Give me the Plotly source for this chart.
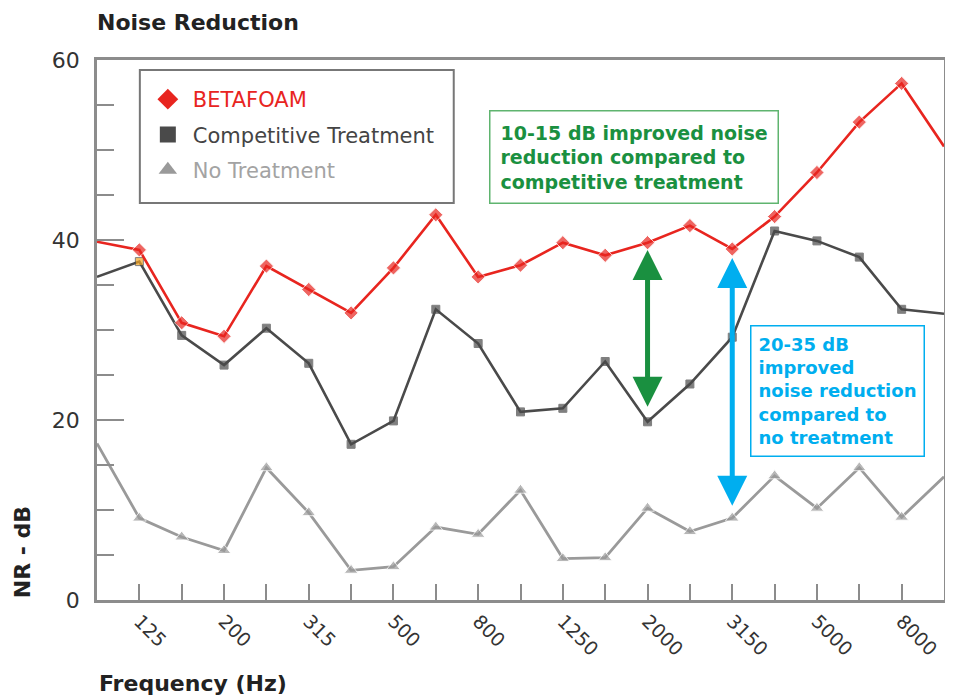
import plotly.graph_objects as go

# ---- data ----
freq_bands = ["100", "125", "160", "200", "250", "315", "400", "500", "630", "800",
              "1000", "1250", "1600", "2000", "2500", "3150", "4000", "5000", "6300",
              "8000", "10000"]
betafoam = [39.8, 38.9, 30.8, 29.3, 37.1, 34.5, 31.9, 36.9, 42.8, 35.9,
            37.2, 39.7, 38.3, 39.7, 41.6, 39.0, 42.6, 47.5, 53.1, 57.4, 50.4]
competitive = [35.9, 37.6, 29.4, 26.1, 30.2, 26.3, 17.3, 19.9, 32.3, 28.5,
               20.9, 21.3, 26.5, 19.8, 24.0, 29.2, 41.0, 39.9, 38.1, 32.3, 31.8]
no_treatment = [17.4, 9.1, 7.0, 5.5, 14.7, 9.7, 3.3, 3.7, 8.1, 7.3,
                12.2, 4.6, 4.7, 10.2, 7.6, 9.1, 13.8, 10.2, 14.7, 9.2, 13.7]
tick_labels = ["125", "200", "315", "500", "800", "1250", "2000", "3150", "5000", "8000"]
y_ticks = [0, 20, 40, 60]

# arrows: (band, from value, to value)
green_arrow = ("2000", 21.3, 38.9)
cyan_arrow = ("3150", 10.3, 38.0)

RED = "#e8251f"
DARK = "#4a4a4a"
LIGHT = "#9a9a9a"
GREEN = "#1a9040"
CYAN = "#00aeef"
FRAME = "#8c8c8c"
FONT = "DejaVu Sans, Verdana, sans-serif"
NUMFONT = "DejaVu Sans, sans-serif"

# page is rendered with an 8px body margin; plot area on page: x 97..947, y 60..600
OFF = 8
W, H = 953 - OFF, 698 - OFF
PL, PR, PT, PB = 97, 947, 60, 600


def px(xp):
    return (xp - PL) / (PR - PL)


def py(yp):
    return (PB - yp) / (PB - PT)


idx = list(range(len(freq_bands)))
n = len(idx)


def sizes(s):
    return [0] + [s] * (n - 2) + [0]


fig = go.Figure()

fig.add_trace(go.Scatter(x=idx, y=no_treatment, mode="lines+markers",
                         line=dict(color=LIGHT, width=2.8),
                         marker=dict(symbol="triangle-up", size=sizes(12), color=LIGHT),
                         showlegend=False))
comp_colors = [DARK] * n
comp_colors[1] = "#f5a623"
fig.add_trace(go.Scatter(x=idx, y=competitive, mode="lines+markers",
                         line=dict(color=DARK, width=2.6),
                         marker=dict(symbol="square", size=sizes(8), color=comp_colors),
                         showlegend=False))
fig.add_trace(go.Scatter(x=idx, y=betafoam, mode="lines+markers",
                         line=dict(color=RED, width=2.6),
                         marker=dict(symbol="diamond", size=sizes(11), color=RED),
                         showlegend=False))

legend_items = [("BETAFOAM", RED, "diamond", RED),
                ("Competitive Treatment", DARK, "square", "#444444"),
                ("No Treatment", LIGHT, "triangle-up", "#a3a3a3")]
for i, (name, col, sym, tcol) in enumerate(legend_items):
    fig.add_trace(go.Scatter(x=[None], y=[None], mode="markers",
                             marker=dict(symbol=sym, size=16, color=col),
                             name=f"<span style='color:{tcol}'>{name}</span>",
                             legendgroup=f"g{i}", showlegend=True))

tickvals = list(range(1, n - 1))
ticktext = [freq_bands[i] if freq_bands[i] in tick_labels else "" for i in tickvals]

fig.update_layout(
    width=W, height=H,
    margin=dict(l=PL - OFF, r=W - (PR - OFF), t=PT - OFF, b=H - (PB - OFF)),
    paper_bgcolor="white", plot_bgcolor="white",
    font=dict(family=FONT, color="#333333"),
    showlegend=True,
    legend=dict(x=px(143), y=py(79), xanchor="left", yanchor="top",
                xref="paper", yref="paper",
                borderwidth=0, bgcolor="rgba(0,0,0,0)",
                font=dict(size=21, family=FONT),
                traceorder="grouped", tracegroupgap=5, itemsizing="trace",
                itemwidth=40),
    title=dict(text="<b>Noise Reduction</b>", x=(97 - OFF) / W, xanchor="left",
               y=1 - (22 - OFF) / H, yanchor="middle",
               font=dict(size=22, color="#222222", family=FONT)),
)

# legend frame
fig.add_shape(type="rect", xref="paper", yref="paper",
              x0=px(140), x1=px(455), y0=py(203), y1=py(70),
              line=dict(color="#777777", width=2), fillcolor="white", layer="below")

fig.update_xaxes(range=[0, n - 1], tickmode="array", tickvals=tickvals, ticktext=ticktext,
                 tickangle=45, ticks="inside", ticklen=16, tickwidth=2, tickcolor=FRAME,
                 showline=True, linecolor=FRAME, linewidth=2.5, mirror=True,
                 showgrid=False, zeroline=False,
                 tickfont=dict(size=19, color="#333333", family=NUMFONT))
fig.update_yaxes(range=[0, 60], tickmode="array", tickvals=y_ticks,
                 ticks="inside", ticklen=27, tickwidth=2, tickcolor=FRAME,
                 minor=dict(dtick=5, ticks="inside", ticklen=17, tickwidth=2, tickcolor=FRAME),
                 showline=True, linecolor=FRAME, linewidth=2.5, mirror=True,
                 showgrid=False, zeroline=False, ticklabelstandoff=10,
                 tickfont=dict(size=22, color="#333333", family=NUMFONT))

# axis titles
fig.add_annotation(text="<b>Frequency (Hz)</b>", xref="paper", yref="paper",
                   x=0, y=py(684), xanchor="left", yanchor="middle",
                   showarrow=False, font=dict(size=22, color="#222222"))
fig.add_annotation(text="<b>NR - dB</b>", xref="paper", yref="paper",
                   x=px(22), y=py(552), xanchor="center", yanchor="middle",
                   textangle=-90, showarrow=False, font=dict(size=22, color="#222222"))

# arrows
for (band, lo, hi), col in [(green_arrow, GREEN), (cyan_arrow, CYAN)]:
    xi = freq_bands.index(band)
    fig.add_annotation(x=xi, y=hi, ax=xi, ay=lo, xref="x", yref="y", axref="x", ayref="y",
                       text="", showarrow=True, arrowhead=2, startarrowhead=2,
                       arrowside="end+start", arrowwidth=5, arrowsize=1.2,
                       startarrowsize=1.2, arrowcolor=col)

# text boxes
fig.add_annotation(text="<b>10-15 dB improved noise<br>reduction compared to<br>competitive treatment</b>",
                   xref="paper", yref="paper", x=px(490), y=py(110),
                   xanchor="left", yanchor="top", align="left", showarrow=False,
                   font=dict(size=19, color=GREEN), bordercolor="#5fb46f", borderwidth=1.5,
                   borderpad=10, bgcolor="white")
fig.add_annotation(text="<b>20-35 dB<br>improved<br>noise reduction<br>compared to<br>no treatment</b>",
                   xref="paper", yref="paper", x=px(752), y=py(325),
                   xanchor="left", yanchor="top", align="left", showarrow=False,
                   font=dict(size=18, color=CYAN), bordercolor=CYAN, borderwidth=1.5,
                   borderpad=7, bgcolor="white")

fig.write_html("out.html")
